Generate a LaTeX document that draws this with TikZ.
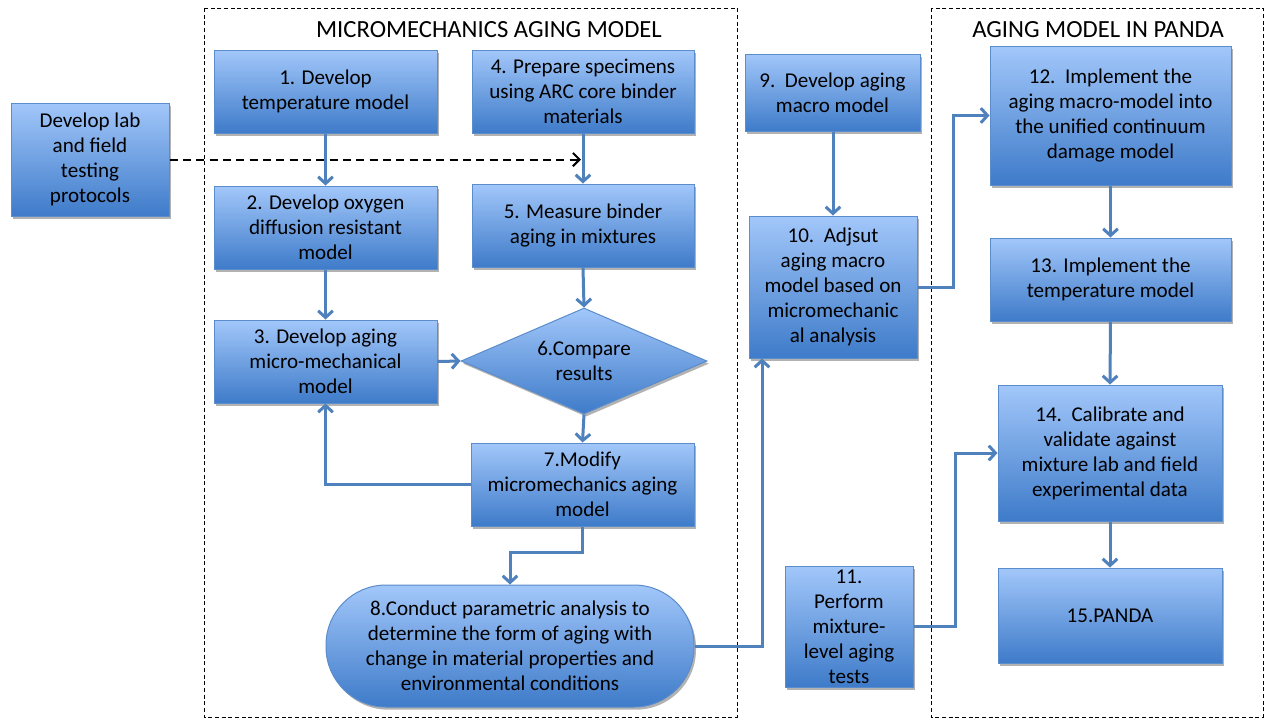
\documentclass[tikz,border=0pt]{standalone}
\usepackage{fontspec}
\setmainfont{Carlito}
\usetikzlibrary{arrows.meta,shapes.geometric,shadows,calc}
\definecolor{arr}{HTML}{4F81BD}
\definecolor{boxtop}{HTML}{A2C7FA}
\definecolor{boxbot}{HTML}{3E7BC9}
\definecolor{boxline}{HTML}{5B8CCB}
\begin{document}
\begin{tikzpicture}[x=0.75pt,y=-0.75pt,
  sz/.style 2 args={minimum width=#1*0.75pt, minimum height=#2*0.75pt},
  box/.style={draw=boxline, line width=0.75pt, top color=boxtop, bottom color=boxbot,
    align=center, inner sep=0pt, font=\fontsize{15.8}{18.75}\selectfont,
    drop shadow={shadow xshift=1.5pt, shadow yshift=-2pt, opacity=0.3, fill=black}},
  flow/.style={draw=arr, line width=2.25pt, -{Straight Barb[length=5pt,width=11pt]}},
  dasharrow/.style={draw=black, line width=1.5pt, dash pattern=on 6pt off 4pt,
    -{Straight Barb[length=5pt,width=10pt]}},
  frame/.style={draw=black, line width=0.75pt, dash pattern=on 3pt off 2pt},
  ttl/.style={font=\fontsize{18.5}{22}\selectfont, inner sep=0pt}]
\useasboundingbox (0,0) rectangle (1265,719);
\fill[white] (0,0) rectangle (1265,719);

% frames
\draw[frame] (204,8) rectangle (737,717);
\draw[frame] (931,8) rectangle (1263,717);
\node[ttl] (t1) at (489,30) {MICROMECHANICS AGING MODEL};
\node[ttl] (t2) at (1098,30) {AGING MODEL IN PANDA};

% nodes
\node[box, sz={158}{113}] (lab) at (90,159.5) {Develop lab\\and field\\testing\\protocols};
\node[box, sz={223}{83}] (b1) at (325.5,91.5) {1. Develop\\temperature model};
\node[box, sz={223}{83}] (b2) at (325.5,227.5) {2. Develop oxygen\\diffusion resistant\\model};
\node[box, sz={223}{83}] (b3) at (325.5,361.5) {3. Develop aging\\micro-mechanical\\model};
\node[box, sz={222}{83}] (b4) at (583,91.5) {4. Prepare specimens\\using ARC core binder\\materials};
\node[box, sz={222}{83}] (b5) at (583,225.5) {5. Measure binder\\aging in mixtures};
\node[box, diamond, aspect=2.32, sz={246}{106}] (d6) at (584,361) {6.Compare\\results};
\node[box, sz={223}{83}] (b7) at (582.5,484.5) {7.Modify\\micromechanics aging\\model};
\node[box, sz={368}{122}, rounded corners=45pt] (b8) at (510,646) {8.Conduct parametric analysis to\\determine the form of aging with\\change in material properties and\\environmental conditions};
\node[box, sz={175}{77}] (b9) at (832.5,92.5) {9.\ \ Develop aging\\macro model};
\node[box, sz={168}{142}] (b10) at (833,287) {10.\ \ Adjsut\\aging macro\\model based on\\micromechanic\\al analysis};
\node[box, sz={128}{121}] (b11) at (849,626.5) {11.\\Perform\\mixture-\\level aging\\tests};
\node[box, sz={241}{139}] (b12) at (1110.5,115.5) {12.\ \ Implement the\\aging macro-model into\\the unified continuum\\damage model};
\node[box, sz={241}{83}] (b13) at (1110.5,279.5) {13. Implement the\\temperature model};
\node[box, sz={224}{136}] (b14) at (1110,453) {14.\ \ Calibrate and\\validate against\\mixture lab and field\\experimental data};
\node[box, sz={224}{95}] (b15) at (1110,615.5) {15.PANDA};

% helper coordinates
\coordinate (dh) at (581,159.5);
\coordinate (k1) at (510,552);
\coordinate (k2) at (762,0);
\coordinate (k3) at (953,0);
\coordinate (k4) at (955,0);

% connectors
\draw[flow] (b1) -- (b2);
\draw[flow] (b2) -- (b3);
\draw[flow] (b4) -- (b5);
\draw[flow] (b5.south) -- (d6.north);
\draw[flow] (b3.east) -- (d6.west);
\draw[flow] (d6.south) -- (b7.north);
\draw[flow] (b7.west) -| (b3.south);
\draw[flow] (b7.south) |- (k1) -- (b8.north);
\draw[flow] (b8.east) -| (k2 |- b10.south);
\draw[flow] (b9.south -| b10.north) -- (b10.north);
\draw[flow] (b10.east) -| (k3 |- b12.west) -- (b12.west);
\draw[flow] (b12) -- (b13);
\draw[flow] (b13.south) -- (b14.north);
\draw[flow] (b14) -- (b15);
\draw[flow] (b11.east) -| (k4 |- b14.west) -- (b14.west);
\draw[dasharrow] (lab.east) -- (dh);
\end{tikzpicture}
\end{document}
